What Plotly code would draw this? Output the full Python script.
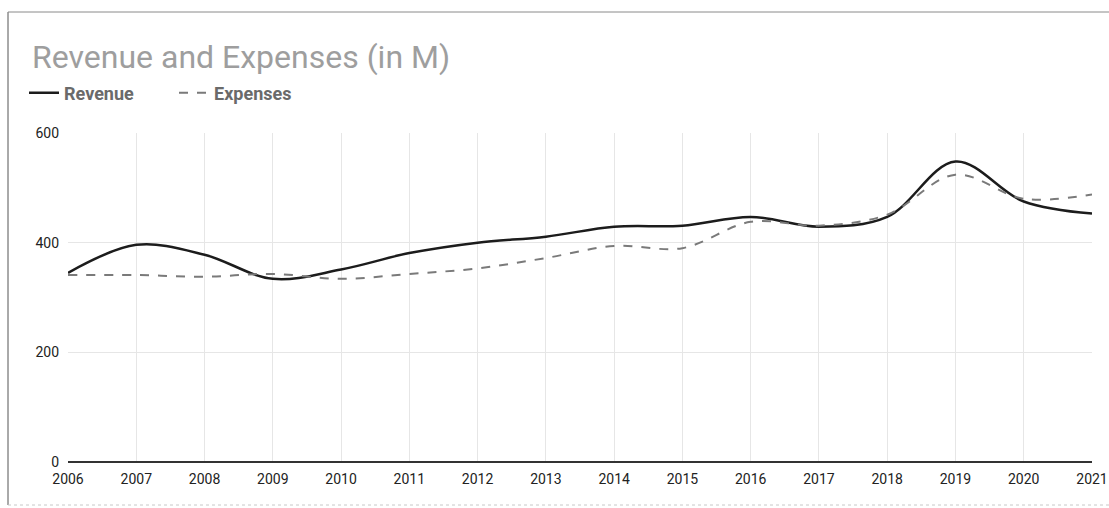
import plotly.graph_objects as go

# Yearly figures, in millions
years = list(range(2006, 2022))
revenue = [345, 396, 378, 334, 351, 381, 400, 411, 429, 431, 447, 429, 447, 548, 475, 453]
expenses = [341, 341, 338, 343, 334, 343, 353, 372, 394, 390, 438, 431, 451, 524, 480, 488]
y_ticks = [0, 200, 400, 600]

W, H = 1109, 508
ML, MR, MT, MB = 68, 17, 133, 46
PW, PH = W - ML - MR, H - MT - MB


def px_x(p):
    return (p - ML) / PW


def px_y(p):
    return (H - MB - p) / PH


fig = go.Figure()
fig.add_trace(go.Scatter(
    x=years, y=revenue, name="Revenue", mode="lines",
    line=dict(color="#1c1c1c", width=2.5, shape="spline", smoothing=1.0),
))
fig.add_trace(go.Scatter(
    x=years, y=expenses, name="Expenses", mode="lines",
    line=dict(color="#7a7a7a", width=2, dash="dash", shape="spline", smoothing=1.0),
))

# thin page frame: left, top and bottom edges
frame = dict(type="line", xref="paper", yref="paper", layer="above")
fig.add_shape(**frame, x0=px_x(8), x1=px_x(8), y0=px_y(12), y1=px_y(505),
              line=dict(color="#555555", width=1))
fig.add_shape(**frame, x0=px_x(8), x1=px_x(W + 2), y0=px_y(12), y1=px_y(12),
              line=dict(color="#8a8a8a", width=1))
fig.add_shape(**frame, x0=px_x(8), x1=px_x(W + 2), y0=px_y(505), y1=px_y(505),
              line=dict(color="#c8c8c8", width=1, dash="dot"))

fig.update_layout(
    width=W, height=H,
    margin=dict(l=ML, r=MR, t=MT, b=MB, autoexpand=False),
    paper_bgcolor="white", plot_bgcolor="white",
    font=dict(family="Roboto", color="#222222", size=14),
    title=dict(text="Revenue and Expenses (in M)", x=32 / W, xanchor="left",
               y=1 - 57 / H, yanchor="middle",
               font=dict(family="Roboto", size=32, color="#9e9e9e")),
    legend=dict(orientation="h", x=px_x(24), xanchor="left", y=px_y(93), yanchor="middle",
                font=dict(family="Roboto", size=18, color="#6a6a6a", weight="bold"),
                itemwidth=30, entrywidth=105, tracegroupgap=0, bgcolor="rgba(0,0,0,0)"),
    showlegend=True,
    xaxis=dict(range=[2006, 2021], tickvals=years, ticktext=[str(y) for y in years],
               showgrid=True, gridcolor="#e6e6e6", gridwidth=1,
               zeroline=False, showline=False, ticks="", automargin=False,
               ticklabelstandoff=7,
               tickfont=dict(size=14, color="#222222")),
    yaxis=dict(range=[0, 600], tickvals=y_ticks, showgrid=True, gridcolor="#e6e6e6",
               zeroline=True, zerolinecolor="#333333", zerolinewidth=1.5,
               showline=False, ticks="", ticklabelstandoff=8, automargin=False,
               tickfont=dict(size=14, color="#222222")),
)

fig.write_html("out.html")
